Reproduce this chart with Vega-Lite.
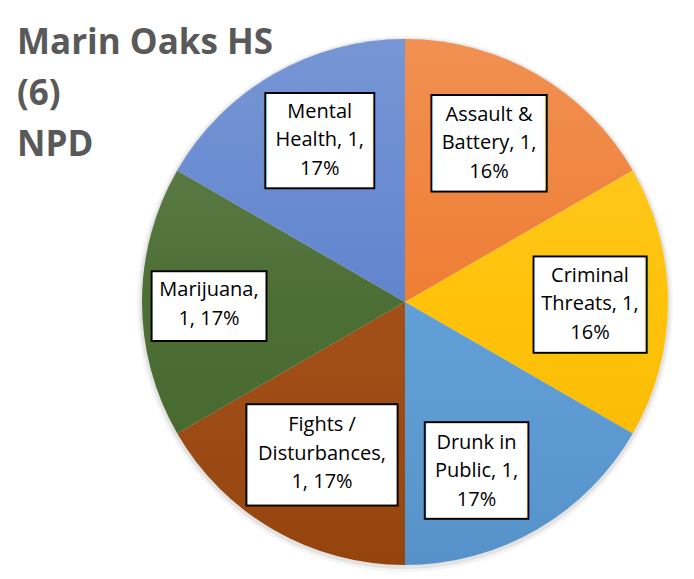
{
  "$schema": "https://vega.github.io/schema/vega-lite/v6.json",
  "width": 526,
  "height": 526,
  "autosize": {"type": "none"},
  "padding": {"left": 142, "top": 39, "right": 26, "bottom": 14},
  "background": "white",
  "config": {"view": {"stroke": null}},
  "title": {
    "text": ["Marin Oaks HS", "(6)", "NPD"],
    "anchor": "start",
    "frame": "group",
    "orient": "top",
    "baseline": "top",
    "offset": -126.5,
    "dx": -125,
    "font": "Open Sans",
    "fontSize": 35,
    "fontWeight": "bold",
    "color": "#595959",
    "lineHeight": 51
  },
  "data": {
    "values": [
      {"category": "Assault & Battery", "count": 1, "label": ["Assault &", "Battery, 1,", "16%"]},
      {"category": "Criminal Threats", "count": 1, "label": ["Criminal", "Threats, 1,", "16%"]},
      {"category": "Drunk in Public", "count": 1, "label": ["Drunk in", "Public, 1,", "17%"]},
      {"category": "Fights / Disturbances", "count": 1, "label": ["Fights /", "Disturbances,", "1, 17%"]},
      {"category": "Marijuana", "count": 1, "label": ["Marijuana,", "1, 17%"]},
      {"category": "Mental Health", "count": 1, "label": ["Mental", "Health, 1,", "17%"]}
    ]
  },
  "layer": [
    {
      "mark": {"type": "arc", "outerRadius": 268, "yOffset": 2, "color": "#000000", "opacity": 0.04},
      "encoding": {"theta": {"aggregate": "sum", "field": "count", "type": "quantitative"}}
    },
    {
      "mark": {"type": "arc", "outerRadius": 265.5, "yOffset": 1.5, "color": "#000000", "opacity": 0.07},
      "encoding": {"theta": {"aggregate": "sum", "field": "count", "type": "quantitative"}}
    },
    {
      "mark": {"type": "arc", "outerRadius": 263},
      "encoding": {
        "theta": {"field": "count", "type": "quantitative", "stack": true},
        "order": {"field": "category", "type": "ordinal", "sort": "ascending"},
        "color": {
          "field": "category",
          "type": "nominal",
          "legend": null,
          "scale": {
            "domain": ["Assault & Battery", "Criminal Threats", "Drunk in Public", "Fights / Disturbances", "Marijuana", "Mental Health"],
            "range": ["#EE782C", "#FFC000", "#5B9BD5", "#9E480E", "#45692D", "#5A7FCC"]
          }
        }
      }
    },
    {
      "mark": {
        "type": "arc",
        "outerRadius": 263,
        "color": {
          "gradient": "linear",
          "x1": 0, "y1": 0, "x2": 0, "y2": 1,
          "stops": [
            {"offset": 0, "color": "rgba(255,255,255,0.18)"},
            {"offset": 0.5, "color": "rgba(255,255,255,0.04)"},
            {"offset": 1, "color": "rgba(0,0,0,0.06)"}
          ]
        }
      },
      "encoding": {"theta": {"aggregate": "sum", "field": "count", "type": "quantitative"}}
    },
    {
      "mark": {
        "type": "text",
        "font": "DejaVu Sans",
        "align": "center",
        "baseline": "middle",
        "color": "#000000",
        "stroke": "#000000",
        "strokeJoin": "miter",
        "strokeMiterLimit": 10,
        "radius": {"expr": "datum.category === 'Assault & Battery' ? 180 : datum.category === 'Criminal Threats' ? 185 : datum.category === 'Drunk in Public' ? 184 : datum.category === 'Fights / Disturbances' ? 173 : datum.category === 'Marijuana' ? 196 : 182.5"},
        "dx": {"expr": "datum.category === 'Assault & Battery' ? -6 : datum.category === 'Drunk in Public' ? -20.5 : datum.category === 'Fights / Disturbances' ? 3.5 : datum.category === 'Mental Health' ? 6 : 0"},
        "dy": {"expr": "datum.category === 'Assault & Battery' ? -3 : datum.category === 'Criminal Threats' ? 2 : datum.category === 'Drunk in Public' ? 10 : datum.category === 'Fights / Disturbances' ? 2 : datum.category === 'Marijuana' ? 2.5 : -3.5"},
        "fontSize": {"expr": "datum.category === 'Assault & Battery' ? 22.4 : datum.category === 'Criminal Threats' ? 20 : datum.category === 'Drunk in Public' ? 8.2 : datum.category === 'Fights / Disturbances' ? 60 : datum.category === 'Marijuana' ? 54.1 : 16.5"},
        "strokeWidth": {"expr": "datum.category === 'Assault & Battery' ? 97 : datum.category === 'Criminal Threats' ? 97 : datum.category === 'Drunk in Public' ? 98 : datum.category === 'Fights / Disturbances' ? 99 : datum.category === 'Marijuana' ? 68 : 96"}
      },
      "encoding": {
        "theta": {"field": "count", "type": "quantitative", "stack": true},
        "order": {"field": "category", "type": "ordinal", "sort": "ascending"},
        "text": {"value": "—"}
      }
    },
    {
      "mark": {
        "type": "text",
        "font": "DejaVu Sans",
        "align": "center",
        "baseline": "middle",
        "color": "#ffffff",
        "stroke": "#ffffff",
        "strokeJoin": "miter",
        "strokeMiterLimit": 10,
        "radius": {"expr": "datum.category === 'Assault & Battery' ? 180 : datum.category === 'Criminal Threats' ? 185 : datum.category === 'Drunk in Public' ? 184 : datum.category === 'Fights / Disturbances' ? 173 : datum.category === 'Marijuana' ? 196 : 182.5"},
        "dx": {"expr": "datum.category === 'Assault & Battery' ? -6 : datum.category === 'Drunk in Public' ? -20.5 : datum.category === 'Fights / Disturbances' ? 3.5 : datum.category === 'Mental Health' ? 6 : 0"},
        "dy": {"expr": "datum.category === 'Assault & Battery' ? -3 : datum.category === 'Criminal Threats' ? 2 : datum.category === 'Drunk in Public' ? 10 : datum.category === 'Fights / Disturbances' ? 2 : datum.category === 'Marijuana' ? 2.5 : -3.5"},
        "fontSize": {"expr": "datum.category === 'Assault & Battery' ? 22.4 : datum.category === 'Criminal Threats' ? 20 : datum.category === 'Drunk in Public' ? 8.2 : datum.category === 'Fights / Disturbances' ? 60 : datum.category === 'Marijuana' ? 54.1 : 16.5"},
        "strokeWidth": {"expr": "datum.category === 'Assault & Battery' ? 93 : datum.category === 'Criminal Threats' ? 93 : datum.category === 'Drunk in Public' ? 94 : datum.category === 'Fights / Disturbances' ? 95 : datum.category === 'Marijuana' ? 64 : 92"}
      },
      "encoding": {
        "theta": {"field": "count", "type": "quantitative", "stack": true},
        "order": {"field": "category", "type": "ordinal", "sort": "ascending"},
        "text": {"value": "—"}
      }
    },
    {
      "mark": {
        "type": "text",
        "font": "Open Sans",
        "fontSize": 20,
        "lineHeight": 28.5,
        "align": "center",
        "baseline": "middle",
        "color": "#000000",
        "radius": {"expr": "datum.category === 'Assault & Battery' ? 180 : datum.category === 'Criminal Threats' ? 185 : datum.category === 'Drunk in Public' ? 184 : datum.category === 'Fights / Disturbances' ? 173 : datum.category === 'Marijuana' ? 196 : 182.5"},
        "dx": {"expr": "datum.category === 'Assault & Battery' ? -6 : datum.category === 'Drunk in Public' ? -20.5 : datum.category === 'Fights / Disturbances' ? 3.5 : datum.category === 'Mental Health' ? 6 : 0"},
        "dy": {"expr": "datum.category === 'Assault & Battery' ? -31.5 : datum.category === 'Criminal Threats' ? -26.5 : datum.category === 'Drunk in Public' ? -18.5 : datum.category === 'Fights / Disturbances' ? -26.5 : datum.category === 'Marijuana' ? -11.75 : -32"}
      },
      "encoding": {
        "theta": {"field": "count", "type": "quantitative", "stack": true},
        "order": {"field": "category", "type": "ordinal", "sort": "ascending"},
        "text": {"field": "label", "type": "nominal"}
      }
    }
  ]
}
